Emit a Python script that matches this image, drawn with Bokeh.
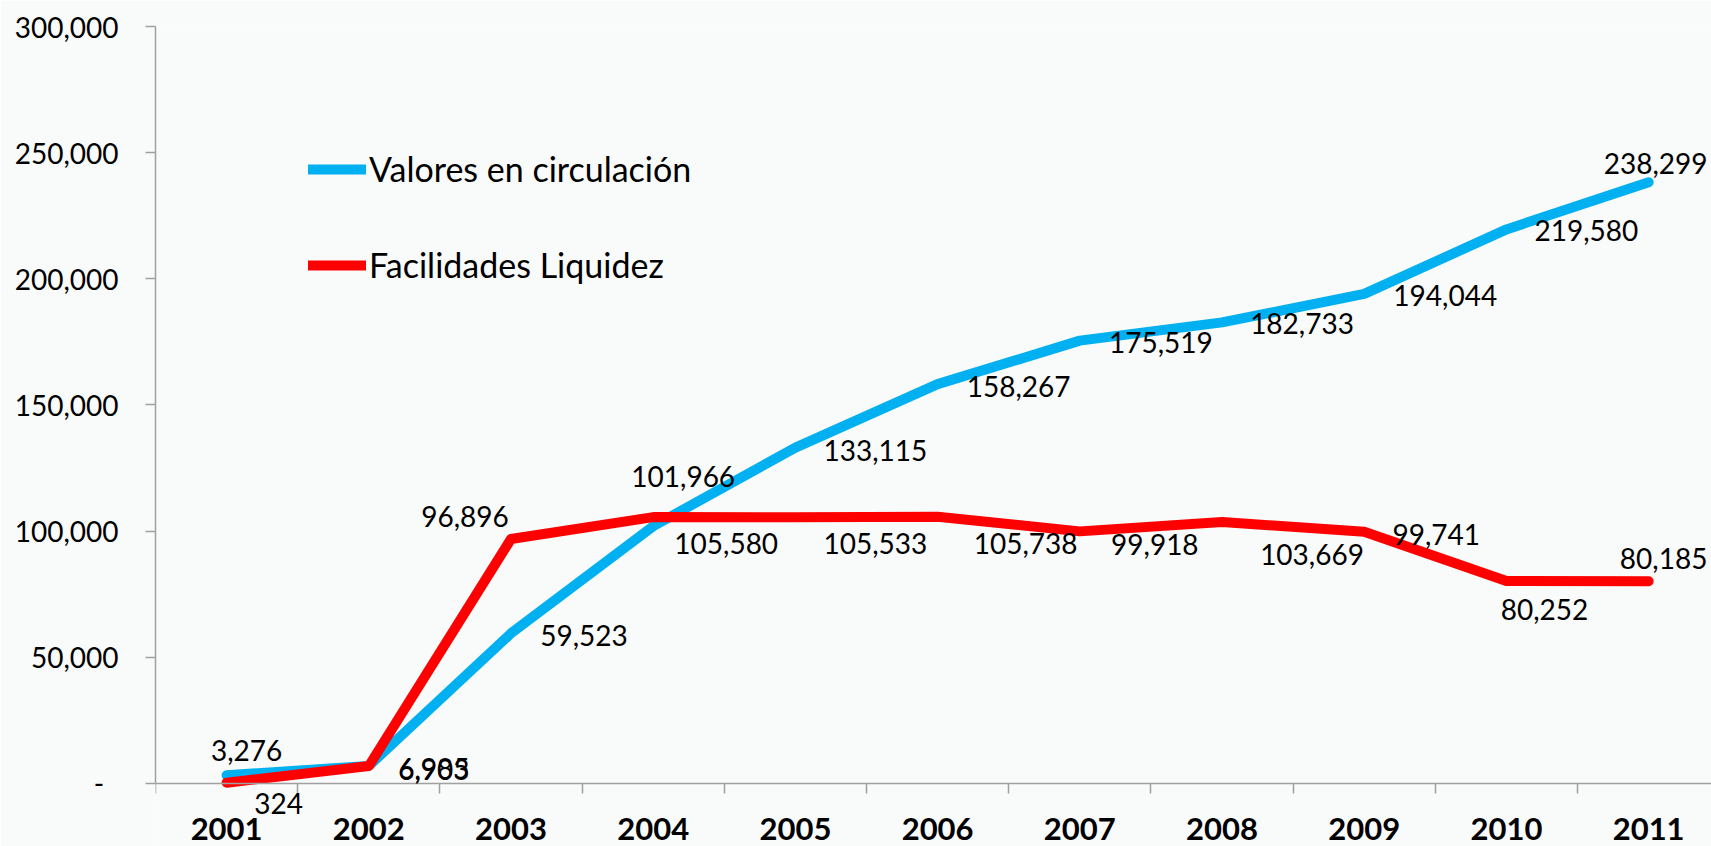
from bokeh.plotting import figure
from bokeh.models import (ColumnDataSource, Range1d, FixedTicker, Legend, LegendItem,
                          NumeralTickFormatter, Label)
from bokeh.embed import file_html
from bokeh.resources import INLINE

# ---- data ----
years = ["2001", "2002", "2003", "2004", "2005", "2006", "2007", "2008", "2009", "2010", "2011"]
valores = [3276, 6985, 59523, 101966, 133115, 158267, 175519, 182733, 194044, 219580, 238299]
facilidades = [324, 6903, 96896, 105580, 105533, 105738, 99918, 103669, 99741, 80252, 80185]
y_ticks = [0, 50000, 100000, 150000, 200000, 250000, 300000]

# ---- label placement (screen-pixel offsets, style only; positive dy = down) ----
val_dx = [20, 65, 73, 30, 80, 81, 81, 80, 81, 80, 7]
val_dy = [-25, 3, 2, -50, 3, 2, 2, 1, 2, 1, -19]
fac_dx = [52, 65, -46, 73, 80, 88, 75, 90, 72, 38, 15]
fac_dy = [21, 3, -22, 26, 26, 27, 13, 33, 3, 29, -23]

BG = "#f9fafa"
BLUE = "#00b0f0"
RED = "#ff0000"
FONT = "Lato"

xc = [i + 0.5 for i in range(len(years))]

# frame reaches the bottom of the page; the x axis sits at y = 0 inside it
p = figure(width=1711, height=846, output_backend="svg", toolbar_location=None,
           x_range=Range1d(0, 10.942), y_range=Range1d(-24967, 300000),
           min_border_left=155, min_border_right=0, min_border_top=26, min_border_bottom=0)
p.background_fill_color = BG
p.border_fill_color = BG
p.outline_line_color = None
p.grid.visible = False

src_v = ColumnDataSource(dict(x=xc, y=valores))
src_f = ColumnDataSource(dict(x=xc, y=facilidades))

rv = p.line("x", "y", source=src_v, line_color=BLUE, line_width=10, line_cap="round", line_join="round")
rf = p.line("x", "y", source=src_f, line_color=RED, line_width=10, line_cap="round", line_join="round")

for vals, dxs, dys in ((valores, val_dx, val_dy), (facilidades, fac_dx, fac_dy)):
    for x, v, dx, dy in zip(xc, vals, dxs, dys):
        p.add_layout(Label(x=x, y=v, text=f"{v:,}", x_offset=dx, y_offset=-dy,
                           text_font=FONT, text_font_size="28px", text_color="#000000",
                           text_align="center", text_baseline="middle"))

# y axis
ya = p.yaxis[0]
ya.ticker = FixedTicker(ticks=y_ticks)
ya.bounds = (0, 300000)
ya.formatter = NumeralTickFormatter(format="0,0")
ya.major_label_overrides = {0: "-\u00a0\u00a0"}
ya.major_label_text_font = FONT
ya.major_label_text_font_size = "28px"
ya.major_label_text_color = "#000000"
ya.major_tick_out = 10
ya.major_tick_in = 0
ya.minor_tick_out = 0
ya.minor_tick_in = 0
ya.major_label_standoff = 27
ya.axis_line_color = "#a0a0a0"
ya.axis_line_width = 1.5
ya.major_tick_line_color = "#a0a0a0"
ya.major_tick_line_width = 1.5

# x axis
xa = p.xaxis[0]
xa.fixed_location = 0
xa.ticker = FixedTicker(ticks=xc, minor_ticks=list(range(0, 12)))
xa.major_label_overrides = {c: y for c, y in zip(xc, years)}
xa.major_label_text_font = FONT
xa.major_label_text_font_size = "31px"
xa.major_label_text_font_style = "bold"
xa.major_label_text_color = "#000000"
xa.major_tick_out = 0
xa.major_tick_in = 0
xa.minor_tick_out = 10
xa.minor_tick_in = 0
xa.minor_tick_line_color = "#a0a0a0"
xa.minor_tick_line_width = 1.5
xa.major_label_standoff = 25
xa.axis_line_color = "#a0a0a0"
xa.axis_line_width = 1.5

legend = Legend(items=[LegendItem(label="Valores en circulación", renderers=[rv]),
                       LegendItem(label="Facilidades Liquidez", renderers=[rf])],
                location=(153, 561), orientation="vertical",
                glyph_width=58, glyph_height=40, label_height=40, spacing=55,
                label_standoff=3, padding=0, margin=0,
                label_text_font=FONT, label_text_font_size="34px", label_text_color="#000000",
                background_fill_alpha=0, border_line_color=None)
p.add_layout(legend)

open("out.html", "w").write(file_html(p, INLINE))
